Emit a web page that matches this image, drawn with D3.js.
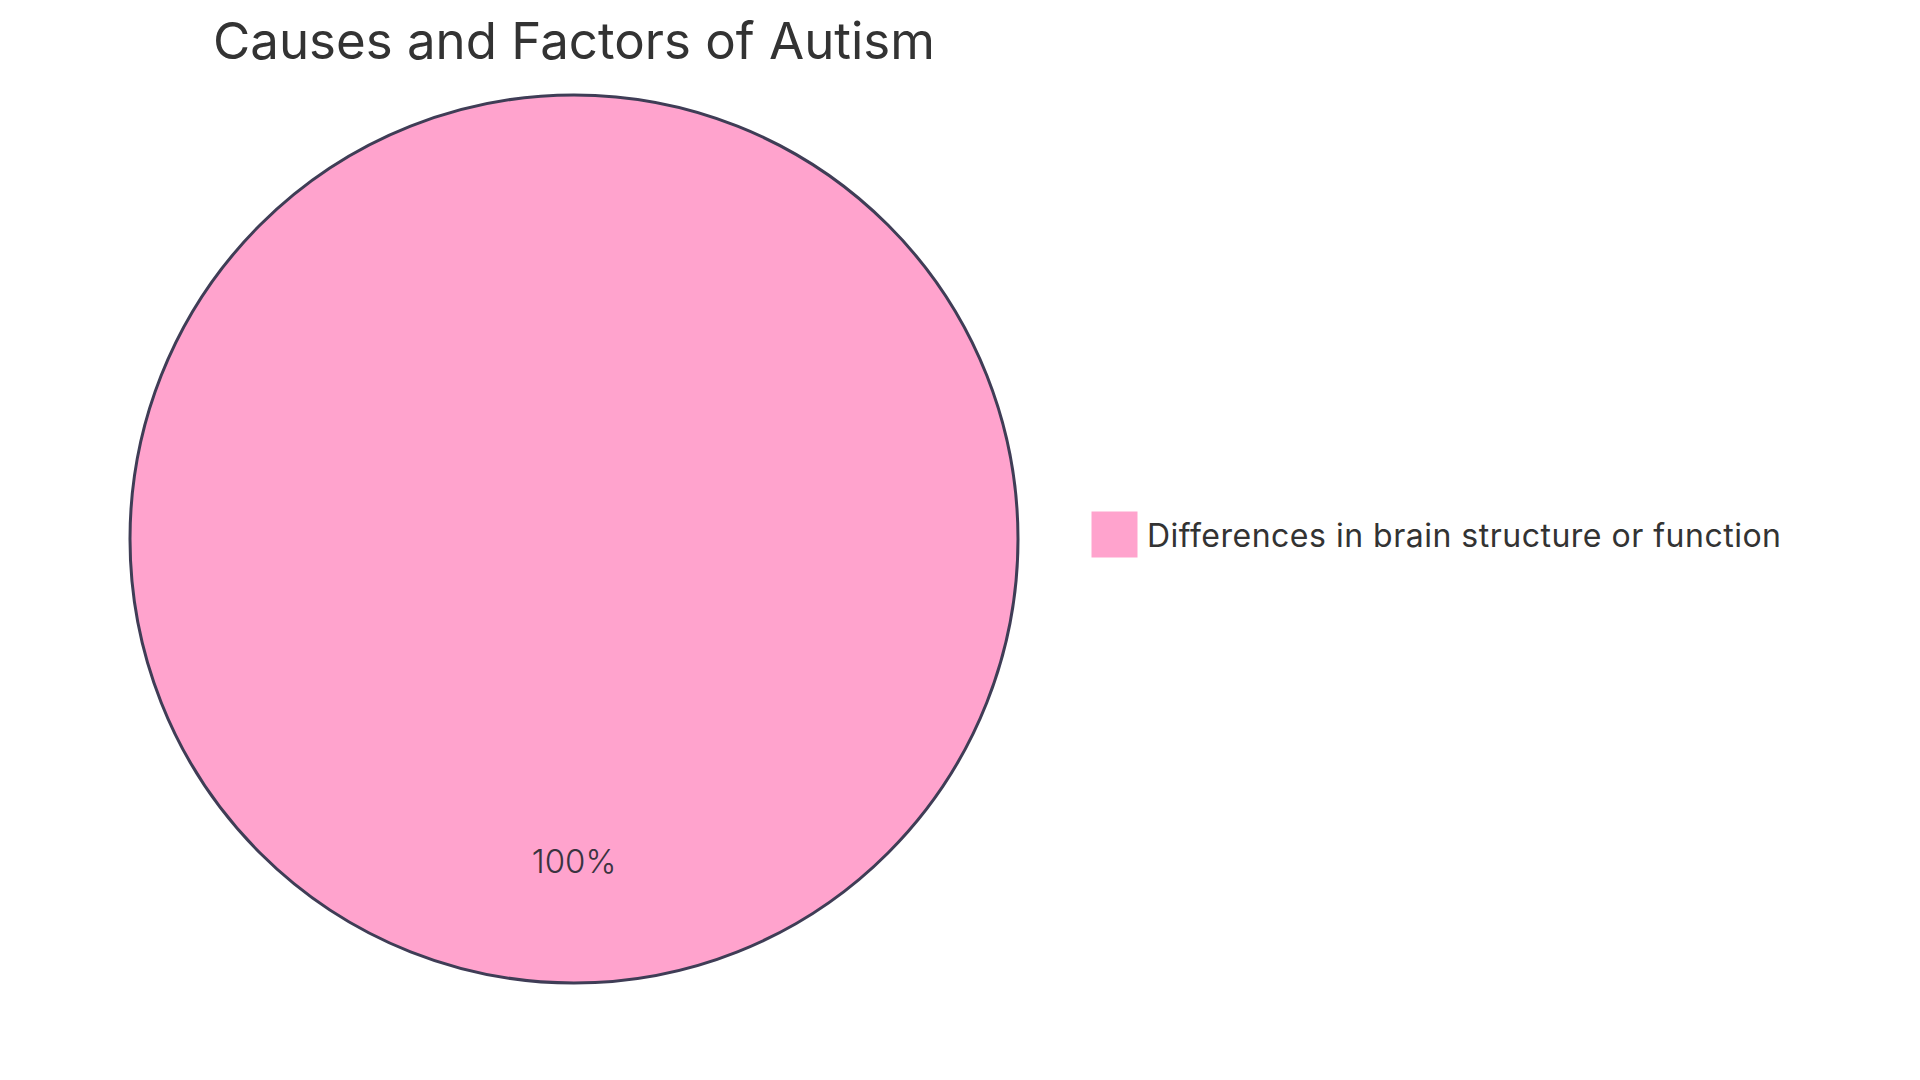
<!DOCTYPE html>
<html>
<head>
<meta charset="utf-8">
<script src="https://cdn.jsdelivr.net/npm/d3@7"></script>
<style>
  html, body { margin: 0; padding: 0; background: #fff; }
  svg { display: block; font-family: Inter, "Noto Sans", sans-serif; }
</style>
</head>
<body>
<svg id="viz" width="1920" height="1080"></svg>
<script>
// chart data
const title = "Causes and Factors of Autism";
const categories = ["Differences in brain structure or function"];
const values = [100];
const colors = ["#ffa3cd"];

const svg = d3.select("#viz");
const cx = 574, cy = 539, r = 444;

// title centered over the pie
svg.append("text")
  .attr("x", cx)
  .attr("y", 59)
  .attr("text-anchor", "middle")
  .attr("fill", "#333")
  .attr("font-size", "51px")
  .text(title);

const pieGen = d3.pie().sort(null).value((d) => d);
const arcGen = d3.arc().innerRadius(0).outerRadius(r);
const labelArc = d3.arc().innerRadius(r * 0.725).outerRadius(r * 0.725);

const g = svg.append("g").attr("transform", `translate(${cx},${cy})`);
const pieData = pieGen(values);
const total = d3.sum(values);

g.selectAll("path.slice")
  .data(pieData)
  .enter()
  .append("path")
  .attr("class", "slice")
  .attr("d", arcGen)
  .attr("fill", (d, i) => colors[i])
  .attr("stroke", "#3f3d56")
  .attr("stroke-width", 3);

g.selectAll("text.slice-label")
  .data(pieData)
  .enter()
  .append("text")
  .attr("class", "slice-label")
  .attr("transform", (d) => {
    const c = labelArc.centroid(d);
    return `translate(${c[0]},${c[1]})`;
  })
  .attr("text-anchor", "middle")
  .attr("dominant-baseline", "central")
  .attr("fill", "#3a3340")
  .attr("font-size", "33px")
  .attr("font-weight", 300)
  .text((d) => Math.round((d.value / total) * 100) + "%");

// legend
const legend = svg.append("g").attr("transform", "translate(1092,512)");
const items = legend.selectAll("g.item")
  .data(categories)
  .enter()
  .append("g")
  .attr("class", "item")
  .attr("transform", (d, i) => `translate(0,${i * 60})`);

items.append("rect")
  .attr("width", 45)
  .attr("height", 45)
  .attr("fill", (d, i) => colors[i])
  .attr("stroke", (d, i) => colors[i]);

items.append("text")
  .attr("x", 55)
  .attr("y", 23)
  .attr("dominant-baseline", "central")
  .attr("fill", "#333")
  .attr("font-size", "32px")
  .attr("letter-spacing", "0.5px")
  .text((d) => d);
</script>
</body>
</html>
